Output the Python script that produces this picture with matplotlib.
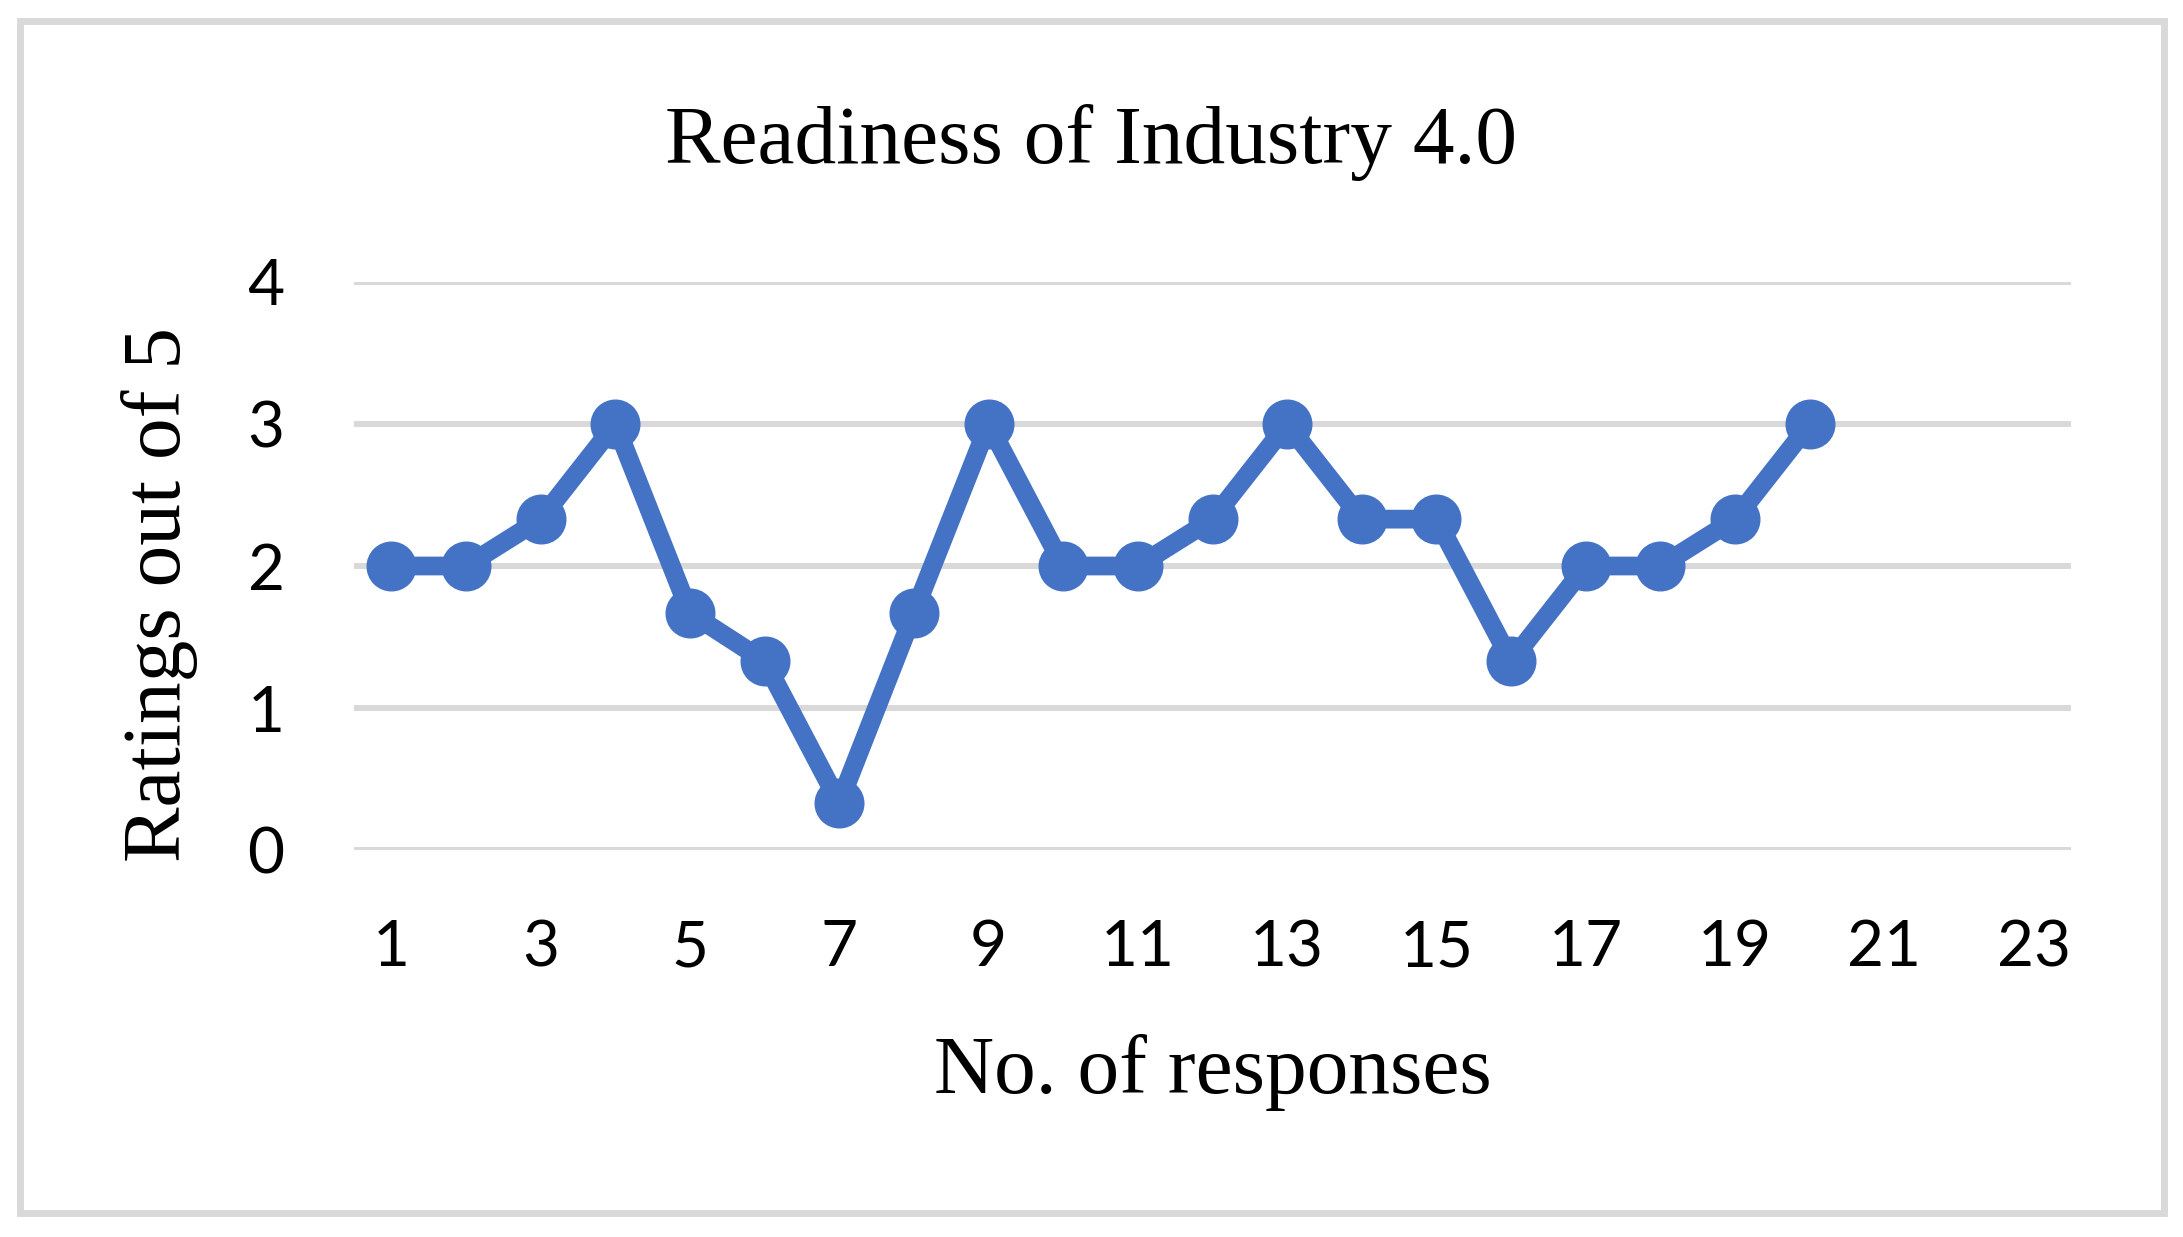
import matplotlib
matplotlib.use("Agg")
import matplotlib.pyplot as plt
from matplotlib.patches import Rectangle

# data
responses = list(range(1, 21))
ratings = [2, 2, 2.33, 3, 1.67, 1.33, 0.33, 1.67, 3, 2,
           2, 2.33, 3, 2.33, 2.33, 1.33, 2, 2, 2.33, 3]
x_ticks = list(range(1, 24, 2))
y_ticks = [0, 1, 2, 3, 4]

W, H = 2183, 1237
fig = plt.figure(figsize=(W / 100, H / 100), dpi=100)

# outer light grey frame
fig.patches.append(Rectangle((20 / W, 1 - 1213 / H), 2144 / W, 1192 / H,
                             transform=fig.transFigure, fill=False,
                             edgecolor="#d9d9d9", linewidth=5))

ax = fig.add_axes([354 / W, 1 - 850 / H, (2071 - 354) / W, (850 - 282) / H])
ax.set_xlim(0.5, 23.5)
ax.set_ylim(0, 4)

for y in y_ticks:
    ax.axhline(y, color="#d9d9d9", linewidth=4.3, zorder=1)

ax.plot(responses, ratings, color="#4472C4", linewidth=13.5, marker="o",
        markersize=35, solid_joinstyle="miter", zorder=3, clip_on=False)

ax.set_xticks(x_ticks)
ax.set_yticks(y_ticks)
for s in ax.spines.values():
    s.set_visible(False)
ax.tick_params(length=0, labelsize=46)
ax.tick_params(axis="x", pad=50)
ax.tick_params(axis="y", pad=50)
for lab in ax.get_xticklabels() + ax.get_yticklabels():
    lab.set_family("Lato")

serif = "Liberation Serif"
fig.text(1091 / W, 1 - 163 / H, "Readiness of Industry 4.0", family=serif,
         fontsize=60, ha="center", va="baseline")
fig.text(1213 / W, 1 - 1093 / H, "No. of responses", family=serif,
         fontsize=60, ha="center", va="baseline")
fig.text(160 / W, 1 - 595 / H, "Ratings out of 5", family=serif,
         fontsize=60, ha="center", va="center", rotation=90)

fig.savefig("out.png", dpi=100)
